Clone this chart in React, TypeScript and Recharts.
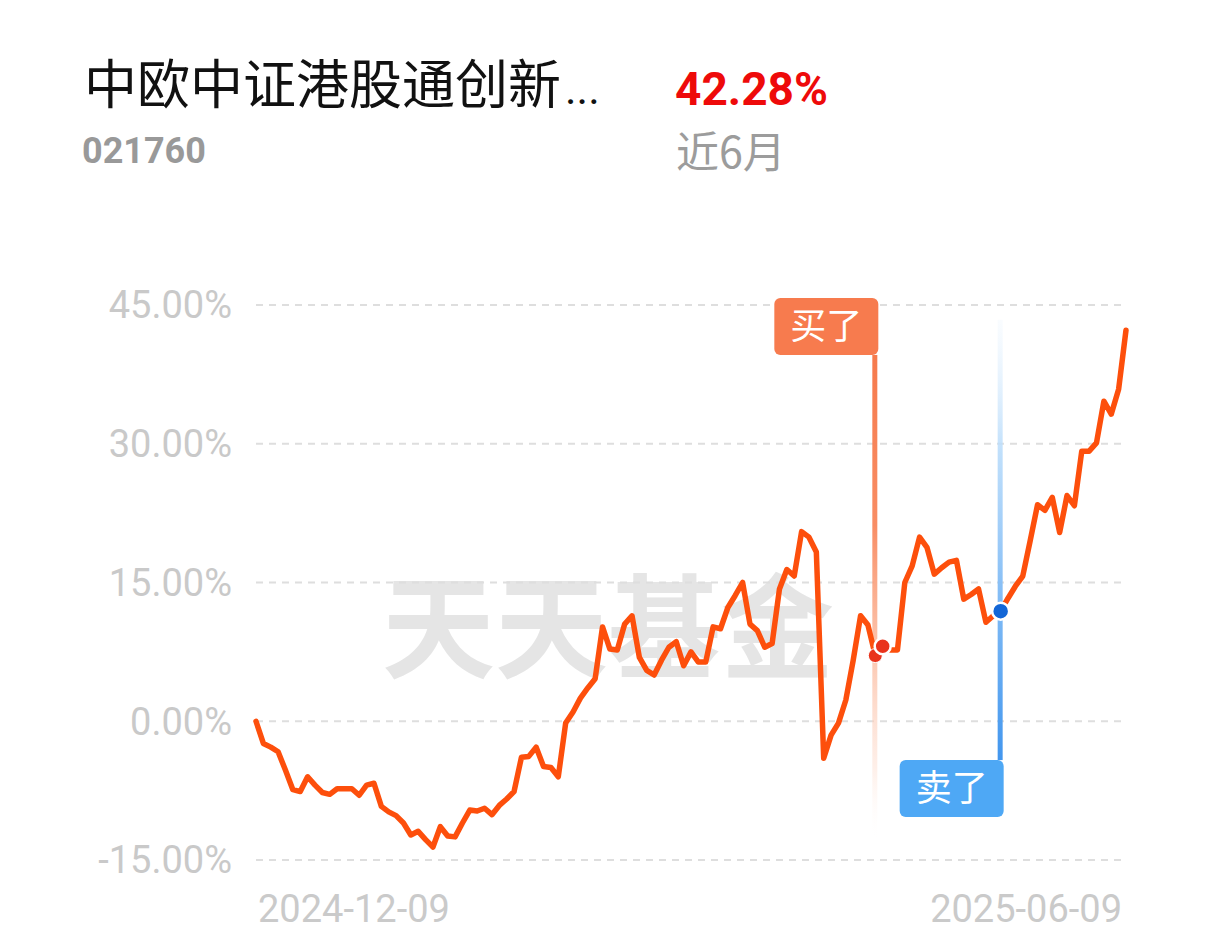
import { CartesianGrid, Line, LineChart, ReferenceDot, ReferenceLine, XAxis, YAxis } from "recharts";

const returns = [
  0, -2.4, -2.8, -3.3, -5.3, -7.4, -7.6, -6.0, -6.9, -7.7,
  -7.9, -7.3, -7.3, -7.3, -8.0, -6.9, -6.7, -9.2, -9.8, -10.2,
  -11.0, -12.3, -11.9, -12.8, -13.6, -11.4, -12.4, -12.5, -11.0, -9.6,
  -9.7, -9.4, -10.1, -9.1, -8.4, -7.6, -3.9, -3.8, -2.8, -4.9,
  -5.0, -6.0, -0.2, 1.0, 2.5, 3.6, 4.6, 10.2, 7.8, 7.7,
  10.5, 11.4, 6.9, 5.5, 5.0, 6.6, 8.0, 8.6, 6.0, 7.5,
  6.4, 6.4, 10.2, 10.0, 12.3, 13.6, 15.0, 10.5, 9.8, 8.0,
  8.4, 14.3, 16.4, 15.7, 20.5, 19.9, 18.3, -4.0, -1.5, -0.2,
  2.3, 6.6, 11.4, 10.4, 7.1, 8.1, 7.7, 7.7, 15.0, 16.8,
  19.9, 18.8, 15.9, 16.6, 17.2, 17.4, 13.2, 13.7, 14.3, 10.7,
  11.4, 11.9, 13.3, 14.6, 15.7, 19.5, 23.4, 22.8, 24.2, 20.4,
  24.4, 23.3, 29.2, 29.2, 30.1, 34.6, 33.2, 35.9, 42.28,
];
const dateTicks = [0, 118];
const dateLabels = ["2024-12-09", "2025-06-09"];
const yTicks = [-15, 0, 15, 30, 45];

const BUY_DAY = 84;
const SELL_DAY = 101;
const buyLine = [39.6, -13];
const sellLine = [43.4, -4.2];
const buyDots = [
  { i: 84, v: 7.1 },
  { i: 85, v: 8.1 },
];

const data = returns.map((v, i) => ({ i, v }));

const CJK = "'Noto Sans CJK SC', sans-serif";
const NUM = "Roboto, 'Noto Sans', sans-serif";

function BuyMarker(props: any) {
  const { x1, y1, y2 } = props;
  return (
    <g>
      <defs>
        <linearGradient id="buyFade" x1="0" y1="0" x2="0" y2="1">
          <stop offset="0" stopColor="#f67a4c" stopOpacity={1} />
          <stop offset="0.35" stopColor="#f8875c" stopOpacity={0.95} />
          <stop offset="0.62" stopColor="#fbb597" stopOpacity={0.75} />
          <stop offset="0.85" stopColor="#fde0d3" stopOpacity={0.5} />
          <stop offset="1" stopColor="#ffffff" stopOpacity={0} />
        </linearGradient>
      </defs>
      <rect x={x1 - 3} y={y1} width={5} height={y2 - y1} fill="url(#buyFade)" />
      <rect x={x1 + 3 - 104} y={y1 - 57} width={104} height={57} rx={6} fill="#f77b4e" />
      <text x={x1 + 3 - 52} y={y1 - 16} textAnchor="middle" fill="#fff" fontSize={36} fontFamily={CJK}>
        买了
      </text>
    </g>
  );
}

function SellMarker(props: any) {
  const { x1, y1, y2 } = props;
  return (
    <g>
      <defs>
        <linearGradient id="sellFade" x1="0" y1="0" x2="0" y2="1">
          <stop offset="0" stopColor="#e3f1fe" stopOpacity={0.2} />
          <stop offset="0.3" stopColor="#b9dcfb" stopOpacity={0.9} />
          <stop offset="0.65" stopColor="#7fbaf5" stopOpacity={1} />
          <stop offset="1" stopColor="#4296ee" stopOpacity={1} />
        </linearGradient>
      </defs>
      <rect x={x1 - 3} y={y1} width={5} height={y2 - y1} fill="url(#sellFade)" />
      <rect x={x1 + 3 - 104} y={y2} width={104} height={57} rx={6} fill="#4ea8f5" />
      <text x={x1 + 3 - 52} y={y2 + 41} textAnchor="middle" fill="#fff" fontSize={36} fontFamily={CJK}>
        卖了
      </text>
    </g>
  );
}

function DateTick(props: any) {
  const { x, y, payload, index } = props;
  const first = index === 0;
  return (
    <text
      x={first ? x + 2 : x - 4}
      y={y + 60}
      textAnchor={first ? "start" : "end"}
      fill="#cacaca"
      fontSize={38}
      fontFamily={NUM}
    >
      {dateLabels[dateTicks.indexOf(payload.value)]}
    </text>
  );
}

export default function App() {
  return (
    <div style={{ position: "relative", width: 1220, height: 935, margin: -8, background: "#fff", overflow: "hidden" }}>
      <svg width={1220} height={935} style={{ position: "absolute", left: 0, top: 0 }}>
        <text x={84} y={104} fontFamily={CJK} fill="#111">
          <tspan fontSize={53}>中欧中证港股通创新</tspan>
          <tspan fontSize={44} fontFamily={NUM} dx={4}>...</tspan>
        </text>
        <text x={82} y={163} fontSize={36} fontWeight={700} fontFamily={NUM} fill="#999">
          021760
        </text>
        <text x={675} y={105} fontSize={46} fontWeight={700} fontFamily={NUM} fill="#ee0a0a">
          42.28%
        </text>
        <text x={676} y={168} fontSize={43} fontFamily={CJK} fill="#9c9c9c">
          近6月
        </text>
        <text x={382} y={669} fontSize={113} fontWeight={700} fontFamily={CJK} fill="#e5e5e5">
          天天基金
        </text>
      </svg>
      <div style={{ position: "absolute", left: 0, top: 0 }}>
        <LineChart width={1220} height={935} data={data} margin={{ top: 305, right: 94, bottom: 15, left: 56 }}>
          <CartesianGrid vertical={false} stroke="#dedede" strokeWidth={2} strokeDasharray="7 6" />
          <XAxis
            dataKey="i"
            type="number"
            domain={[0, 118]}
            ticks={dateTicks}
            height={60}
            axisLine={false}
            tickLine={false}
            tickSize={0}
            tick={<DateTick />}
          />
          <YAxis
            domain={[-15, 45]}
            ticks={yTicks}
            width={200}
            axisLine={false}
            tickLine={false}
            tickSize={0}
            tickMargin={24}
            tick={{ fill: "#c9c9c9", fontSize: 38, fontFamily: NUM }}
            tickFormatter={(v: number) => `${v.toFixed(2)}%`}
          />
          <ReferenceLine
            segment={[
              { x: BUY_DAY, y: buyLine[0] },
              { x: BUY_DAY, y: buyLine[1] },
            ]}
            shape={<BuyMarker />}
          />
          <ReferenceLine
            segment={[
              { x: SELL_DAY, y: sellLine[0] },
              { x: SELL_DAY, y: sellLine[1] },
            ]}
            shape={<SellMarker />}
          />
          <Line
            dataKey="v"
            type="linear"
            stroke="#fd4f0c"
            strokeWidth={5.5}
            strokeLinejoin="round"
            strokeLinecap="round"
            dot={false}
            activeDot={false}
            isAnimationActive={false}
          />
          {buyDots.map((d, k) => (
            <ReferenceDot
              key={k}
              x={d.i}
              y={d.v}
              r={k === 0 ? 7 : 8}
              fill="#e9331c"
              stroke="#fff"
              strokeWidth={k === 0 ? 1 : 2.5}
            />
          ))}
          <ReferenceDot x={SELL_DAY} y={returns[SELL_DAY]} r={8.5} fill="#1366d6" stroke="#fff" strokeWidth={2.5} />
        </LineChart>
      </div>
    </div>
  );
}
